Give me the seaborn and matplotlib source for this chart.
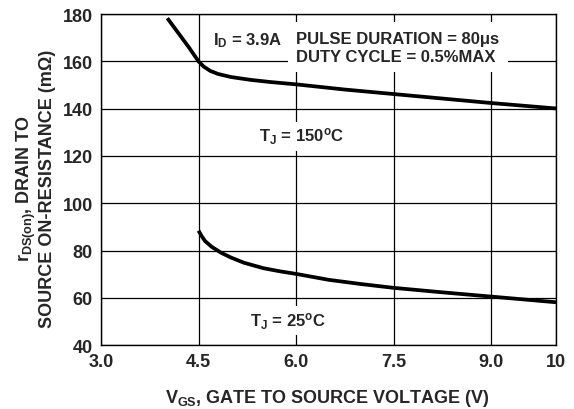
import numpy as np
import pandas as pd
import seaborn as sns
import matplotlib
matplotlib.use("Agg")
import matplotlib.pyplot as plt

# values
vgs_150 = [4.02, 4.2, 4.35, 4.5, 4.58, 4.68, 4.8, 5.0, 5.3, 5.6, 6.0, 6.75, 7.5, 8.25, 9.0, 10.0]
r_150 = [178.3, 171.6, 166.0, 160.0, 157.8, 156.0, 154.7, 153.4, 152.2, 151.3, 150.3,
         148.1, 146.2, 144.3, 142.4, 140.1]

vgs_25 = [4.5, 4.55, 4.6, 4.7, 4.85, 5.0, 5.2, 5.5, 5.75, 6.0, 6.5, 7.0, 7.5, 8.25, 9.0, 10.0]
r_25 = [88.4, 86.0, 84.0, 81.6, 79.0, 77.0, 74.8, 72.5, 71.2, 70.1, 67.6, 65.8, 64.2,
        62.3, 60.5, 58.1]

x_ticks = [3.0, 4.5, 6.0, 7.5, 9.0, 10]
x_tick_labels = ["3.0", "4.5", "6.0", "7.5", "9.0", "10"]
y_ticks = [40, 60, 80, 100, 120, 140, 160, 180]

df = pd.concat([
    pd.DataFrame({"vgs": vgs_150, "rds": r_150, "tj": "150"}),
    pd.DataFrame({"vgs": vgs_25, "rds": r_25, "tj": "25"}),
])

sns.set_style("white")
plt.rcParams["font.family"] = ["Liberation Sans", "DejaVu Sans"]
plt.rcParams["font.weight"] = "bold"
plt.rcParams["mathtext.fontset"] = "custom"
plt.rcParams["mathtext.rm"] = "Liberation Sans:bold"
plt.rcParams["mathtext.it"] = "Liberation Sans:bold"
plt.rcParams["mathtext.default"] = "rm"

fig = plt.figure(figsize=(5.74, 4.10), dpi=100)
ax = fig.add_axes([0.176, 0.156, 0.793, 0.807])

sns.lineplot(data=df, x="vgs", y="rds", hue="tj", units="tj", estimator=None,
             palette={"150": "black", "25": "black"}, linewidth=2.7,
             legend=False, ax=ax, zorder=4)
for ln in ax.lines:
    ln.set_solid_joinstyle("round")
    ln.set_solid_capstyle("butt")

ax.set_xlim(3.0, 10)
ax.set_ylim(40, 180)
ax.set_xticks(x_ticks)
ax.set_xticklabels(x_tick_labels)
ax.set_yticks(y_ticks)
ax.tick_params(length=0, labelsize=13, pad=6)
for lab in ax.get_xticklabels() + ax.get_yticklabels():
    lab.set_fontweight("bold")
ax.grid(True, color="black", linewidth=0.9)
for s in ax.spines.values():
    s.set_color("black")
    s.set_linewidth(1.0)
ax.set_xlabel("")
ax.set_ylabel("")

box = dict(facecolor="white", edgecolor="none", pad=3)
ax.text(4.72, 169.4, r"I$_{\mathrm{D}}$ = 3.9A", fontsize=12, fontweight="bold",
        va="center", ha="left", bbox=box, zorder=5)
ax.text(6.0, 166.0, "PULSE DURATION = 80\u03bcs\nDUTY CYCLE = 0.5%MAX", fontsize=12,
        fontweight="bold", va="center", ha="left", linespacing=1.25,
        bbox=dict(facecolor="white", edgecolor="none", pad=6), zorder=5)
ax.text(6.08, 128.4, r"T$_{\mathrm{J}}$ = 150$^{\mathrm{o}}$C", fontsize=12,
        fontweight="bold", va="center", ha="center", bbox=box, zorder=5)
ax.text(5.88, 50.2, r"T$_{\mathrm{J}}$ = 25$^{\mathrm{o}}$C", fontsize=12,
        fontweight="bold", va="center", ha="center", bbox=box, zorder=5)

fig.text(0.571, 0.028, r"V$_{\mathrm{GS}}$, GATE TO SOURCE VOLTAGE (V)", fontsize=13,
         fontweight="bold", ha="center", va="center")
fig.text(0.046, 0.54, r"r$_{\mathrm{DS(on)}}$, DRAIN TO", fontsize=13, fontweight="bold",
         rotation=90, ha="center", va="center")
fig.text(0.083, 0.54, "SOURCE ON-RESISTANCE (m\u03a9)", fontsize=13, fontweight="bold",
         rotation=90, ha="center", va="center")

fig.savefig("out.png", dpi=100)
